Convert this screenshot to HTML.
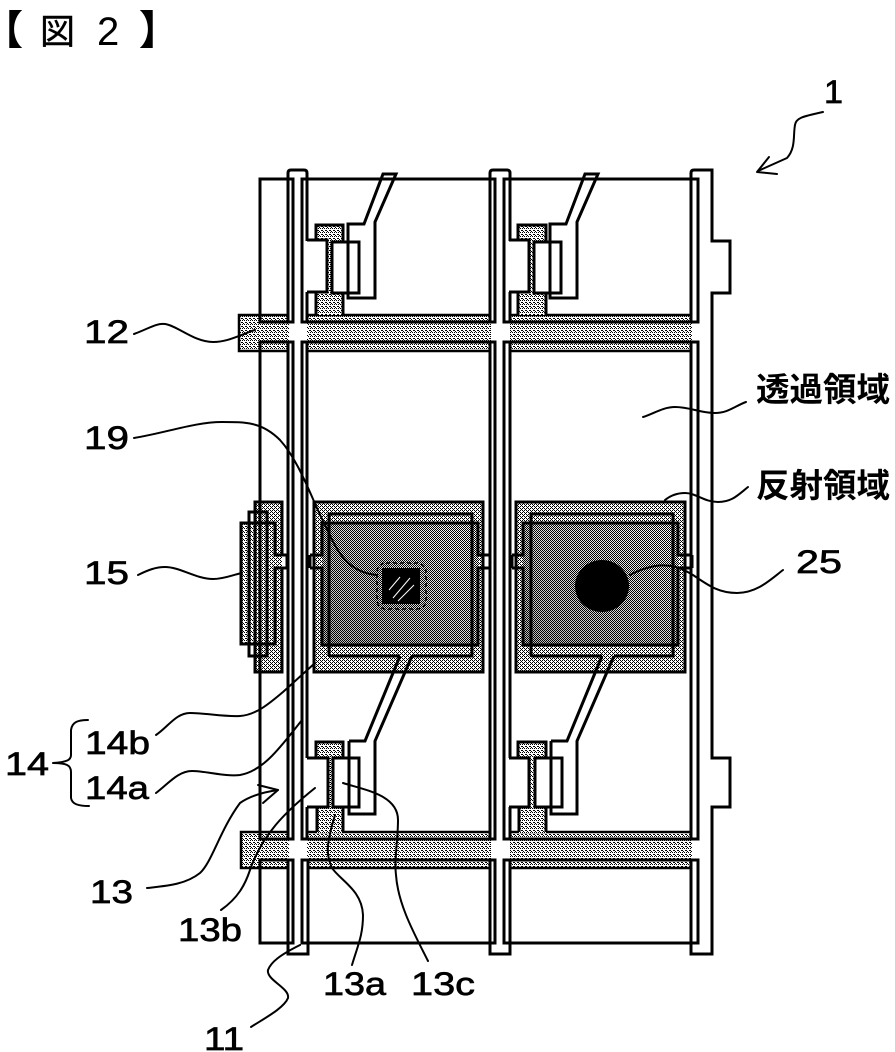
<!DOCTYPE html>
<html lang="ja">
<head>
<meta charset="utf-8">
<title>図2</title>
<style>
html,body{margin:0;padding:0;background:#fff}
svg{display:block}
.t{font-family:"Liberation Sans","Noto Sans CJK JP",sans-serif;font-size:32px;fill:#000;stroke:#000;stroke-width:.65}
.j{font-family:"Liberation Sans","Noto Sans CJK JP",sans-serif;font-size:33px;font-weight:700;fill:#000}
.l{fill:none;stroke:#000;stroke-width:2;stroke-linecap:round;stroke-linejoin:round}
.e{fill:none;stroke:#000;stroke-width:3;stroke-linejoin:miter}
</style>
</head>
<body>
<svg xmlns="http://www.w3.org/2000/svg" width="895" height="1052" viewBox="0 0 895 1052">
<defs>
<pattern id="p1" width="4" height="4" patternUnits="userSpaceOnUse">
<rect width="4" height="4" fill="#fff"/>
<rect x="0" y="0" width="1" height="1"/><rect x="2" y="0" width="1" height="1"/><rect x="1" y="2" width="2" height="1"/><rect x="3" y="3" width="1" height="1"/>
</pattern>
<pattern id="p2" width="4" height="4" patternUnits="userSpaceOnUse">
<rect width="4" height="4" fill="#fff"/>
<rect x="0" y="0" width="1" height="1"/><rect x="2" y="0" width="1" height="1"/><rect x="1" y="1" width="1" height="1"/><rect x="0" y="2" width="1" height="1"/><rect x="2" y="2" width="1" height="1"/><rect x="3" y="3" width="1" height="1"/>
</pattern>
<pattern id="p3" width="2" height="2" patternUnits="userSpaceOnUse">
<rect width="2" height="2" fill="#fff"/>
<rect x="0" y="0" width="1" height="1"/><rect x="1" y="1" width="1" height="1"/>
</pattern>
<linearGradient id="sh" x1="1" y1="0" x2="0" y2="1">
<stop offset="0" stop-color="#000" stop-opacity="0"/>
<stop offset="1" stop-color="#000" stop-opacity=".28"/>
</linearGradient>
</defs>
<rect width="895" height="1052" fill="#fff"/>

<!-- gate lines -->
<g shape-rendering="crispEdges">
<rect x="239" y="316" width="453" height="35" fill="url(#p1)"/>
<rect x="241" y="833" width="451" height="35" fill="url(#p1)"/>
<rect x="289" y="314" width="18" height="39" fill="#fff"/>
<rect x="491" y="314" width="19" height="39" fill="#fff"/>
<rect x="289" y="831" width="18" height="39" fill="#fff"/>
<rect x="491" y="831" width="19" height="39" fill="#fff"/>
</g>
<g class="e" style="stroke-width:2.5">
<path d="M288,315H239V351H288M307,315H490M510,315H692M307,351H490M510,351H692"/>
<path d="M288,832H241V868H288M307,832H490M510,832H692M307,868H490M510,868H692"/>
</g>

<!-- TFT and reflective fills -->
<g id="tfts">
<rect x="316" y="225" width="27" height="90" fill="url(#p1)" shape-rendering="crispEdges"/>
<rect x="518" y="225" width="28" height="90" fill="url(#p1)" shape-rendering="crispEdges"/>
<rect x="316" y="742" width="27" height="91" fill="url(#p1)" shape-rendering="crispEdges"/>
<rect x="518" y="742" width="28" height="91" fill="url(#p1)" shape-rendering="crispEdges"/>
<rect x="255" y="502" width="27" height="170" fill="url(#p2)" shape-rendering="crispEdges"/>
<rect x="241" y="523" width="14" height="121" fill="url(#p1)" shape-rendering="crispEdges"/>
<rect x="314" y="502" width="169" height="170" fill="url(#p2)" shape-rendering="crispEdges"/>
<rect x="516" y="502" width="169" height="170" fill="url(#p2)" shape-rendering="crispEdges"/>
<rect x="322" y="523" width="156" height="122" fill="url(#p3)" shape-rendering="crispEdges"/>
<rect x="523" y="523" width="155" height="122" fill="url(#p3)" shape-rendering="crispEdges"/>
<rect x="322" y="523" width="156" height="122" fill="url(#sh)"/>
<rect x="523" y="523" width="155" height="122" fill="url(#sh)"/>
</g>

<!-- pixel electrodes -->
<g class="e">
<rect x="260" y="179" width="33" height="143"/>
<rect x="260" y="342" width="33" height="497"/>
<rect x="260" y="860" width="33" height="83"/>
<rect x="302" y="179" width="193" height="143"/>
<rect x="302" y="342" width="193" height="497"/>
<rect x="302" y="860" width="193" height="83"/>
<rect x="504" y="179" width="194" height="143"/>
<rect x="504" y="342" width="194" height="497"/>
<rect x="504" y="860" width="194" height="83"/>
</g>

<!-- data lines -->
<g class="e">
<path d="M288,322V173Q288,170 291,170H304Q307,170 307,173V322"/>
<path d="M288,342V839M307,342V839"/>
<path d="M288,860V954H308V860"/>
<path d="M490,322V173Q490,170 493,170H507Q510,170 510,173V322"/>
<path d="M490,342V839M510,342V839"/>
<path d="M490,860V954H510V860"/>
<path d="M691,322V173Q691,170 694,170H712V241H730V293H712V758H730V807H712V954H691V860"/>
<path d="M691,342V839"/>
</g>

<!-- TFT outlines -->
<g class="e">
<rect x="304" y="241" width="23" height="51" fill="#fff" stroke="none"/>
<rect x="506" y="241" width="23" height="51" fill="#fff" stroke="none"/>
<rect x="304" y="758" width="24" height="49" fill="#fff" stroke="none"/>
<rect x="506" y="758" width="23" height="49" fill="#fff" stroke="none"/>
<path d="M316,240V225H343V242M343,293V315M316,292V315"/>
<path d="M518,240V225H546V242M546,293V315M518,292V315"/>
<path d="M316,757V742H343V758M343,807V832M317,807V832"/>
<path d="M518,757V742H546V758M546,807V832M519,807V832"/>
<path d="M307,240H327V292H307"/>
<path d="M509,240H529V292H509"/>
<path d="M307,758H328V807H307"/>
<path d="M509,758H529V807H509"/>
<rect x="332" y="242" width="27" height="51" fill="#fff"/>
<rect x="534" y="242" width="27" height="51" fill="#fff"/>
<rect x="333" y="758" width="26" height="49" fill="#fff"/>
<rect x="535" y="758" width="27" height="49" fill="#fff"/>
<path d="M348,224V298H375V222L396,174H383L364,224H348Z"/>
<path d="M550,224V298H577V222L598,174H585L566,224H550Z"/>
<path d="M349,741V814H375V741L412,656M349,741H365L400,656"/>
<path d="M551,741V814H577V741L614,656M551,741H567L602,656"/>
</g>

<!-- reflective outlines -->
<g class="e">
<rect x="314" y="502" width="169" height="170"/>
<rect x="516" y="502" width="169" height="170"/>
<path d="M260,502H282V555H287M282,568V672H255V502H260"/>
<path d="M329,656V514H472V656H412M400,656H329"/>
<path d="M531,656V514H673V656H614M602,656H531"/>
<path d="M310,555H322V523H478V555H490M310,568H322V645H478V568H490M310,555V568M490,555V568"/>
<path d="M512,555H523V523H678V555H692M512,568H523V645H678V568H692M512,555V568M692,555V568"/>
<path d="M241,523H275V555H287V568H275V644H241Z"/>
<rect x="249" y="512" width="18" height="144"/>
</g>

<!-- contact hole and bump -->
<rect x="382" y="568" width="38" height="36" fill="#000"/>
<path d="M393,598L410,578M398,601L414,585M389,590L400,577" stroke="#fff" stroke-width="1" fill="none"/>
<rect x="377" y="563" width="49" height="46" rx="9" fill="none" stroke="#000" stroke-width="1.5" stroke-dasharray="4 3"/>
<ellipse cx="602" cy="586" rx="27" ry="26" fill="#000"/>

<!-- leaders -->
<g class="l">
<path d="M823,112C806,116 796,117 795,125C793,135 796,148 787,158L758,171"/>
<path d="M769,157L757,172L777,174"/>
<path d="M134,334C148,329 156,323 165,324C178,326 194,342 213,342C228,342 240,335 255,330"/>
<path d="M134,438C165,433 195,422 222,422C246,422 262,422 280,440C300,462 312,500 325,525C336,548 345,572 377,575"/>
<path d="M138,575C148,570 156,567 165,567C180,567 196,579 213,579C224,579 232,575 242,573"/>
<path d="M156,735C168,727 176,713 190,713C205,713 225,717 240,716C256,715 270,703 283,692C294,682 305,672 315,663"/>
<path d="M156,793C168,784 178,771 192,771C206,771 226,777 240,775C264,771 282,745 302,720"/>
<path d="M147,888C165,886 185,885 200,873C212,862 220,830 240,803C250,796 264,792 278,790"/>
<path d="M258,785L278,790L263,803"/>
<path d="M221,910C238,898 245,885 250,870C262,835 285,812 315,788"/>
<path d="M352,965C358,945 363,935 363,915C362,890 340,880 332,868C326,855 326,845 335,815"/>
<path d="M428,961C415,935 398,905 396,875C394,860 398,840 398,820C398,795 365,790 343,783"/>
<path d="M251,1027C265,1018 284,1008 288,998C290,988 266,980 268,970C271,962 280,955 300,945"/>
<path d="M783,570C770,580 757,593 737,593C718,593 708,585 693,575C680,567 670,564 655,566C645,568 637,571 630,575"/>
<path d="M748,487C738,495 732,502 718,502C704,502 696,493 685,493C676,493 670,496 665,500"/>
<path d="M746,402C735,406 728,413 715,413C700,413 690,407 675,407C663,407 653,414 643,417"/>
<path d="M88,720C78,720 72,722 71,730V755C71,760 67,762 53,763C66,763 71,765 71,772V798C72,804 78,806 89,806"/>
</g>

<!-- labels -->
<g>
<text class="t" x="824" y="103" textLength="19" lengthAdjust="spacingAndGlyphs">1</text>
<text class="t" x="84" y="343" textLength="45" lengthAdjust="spacingAndGlyphs">12</text>
<text class="t" x="84" y="449" textLength="45" lengthAdjust="spacingAndGlyphs">19</text>
<text class="t" x="84" y="584" textLength="45" lengthAdjust="spacingAndGlyphs">15</text>
<text class="t" x="5" y="775" textLength="44" lengthAdjust="spacingAndGlyphs">14</text>
<text class="t" x="85" y="754" textLength="65" lengthAdjust="spacingAndGlyphs">14b</text>
<text class="t" x="85" y="799" textLength="64" lengthAdjust="spacingAndGlyphs">14a</text>
<text class="t" x="90" y="903" textLength="43" lengthAdjust="spacingAndGlyphs">13</text>
<text class="t" x="178" y="941" textLength="64" lengthAdjust="spacingAndGlyphs">13b</text>
<text class="t" x="323" y="995" textLength="63" lengthAdjust="spacingAndGlyphs">13a</text>
<text class="t" x="411" y="995" textLength="64" lengthAdjust="spacingAndGlyphs">13c</text>
<text class="t" x="204" y="1050" textLength="40" lengthAdjust="spacingAndGlyphs">11</text>
<text class="t" x="796" y="573" textLength="46" lengthAdjust="spacingAndGlyphs">25</text>
<text class="j" x="756" y="401" textLength="134" lengthAdjust="spacingAndGlyphs">透過領域</text>
<text class="j" x="756" y="497" textLength="134" lengthAdjust="spacingAndGlyphs">反射領域</text>
<text style="font-family:'Liberation Sans','Noto Sans CJK JP',sans-serif;font-size:40px;font-weight:900;fill:#000" x="-17" y="44">【</text>
<text style="font-family:'Liberation Sans','Noto Sans CJK JP',sans-serif;font-size:35px;fill:#000;stroke:#000;stroke-width:.4" x="40" y="44">図</text>
<text style="font-family:'Liberation Sans',sans-serif;font-size:40px;fill:#000" x="97" y="45">2</text>
<text style="font-family:'Liberation Sans','Noto Sans CJK JP',sans-serif;font-size:40px;font-weight:900;fill:#000" x="139" y="44">】</text>
</g>
</svg>
</body>
</html>
